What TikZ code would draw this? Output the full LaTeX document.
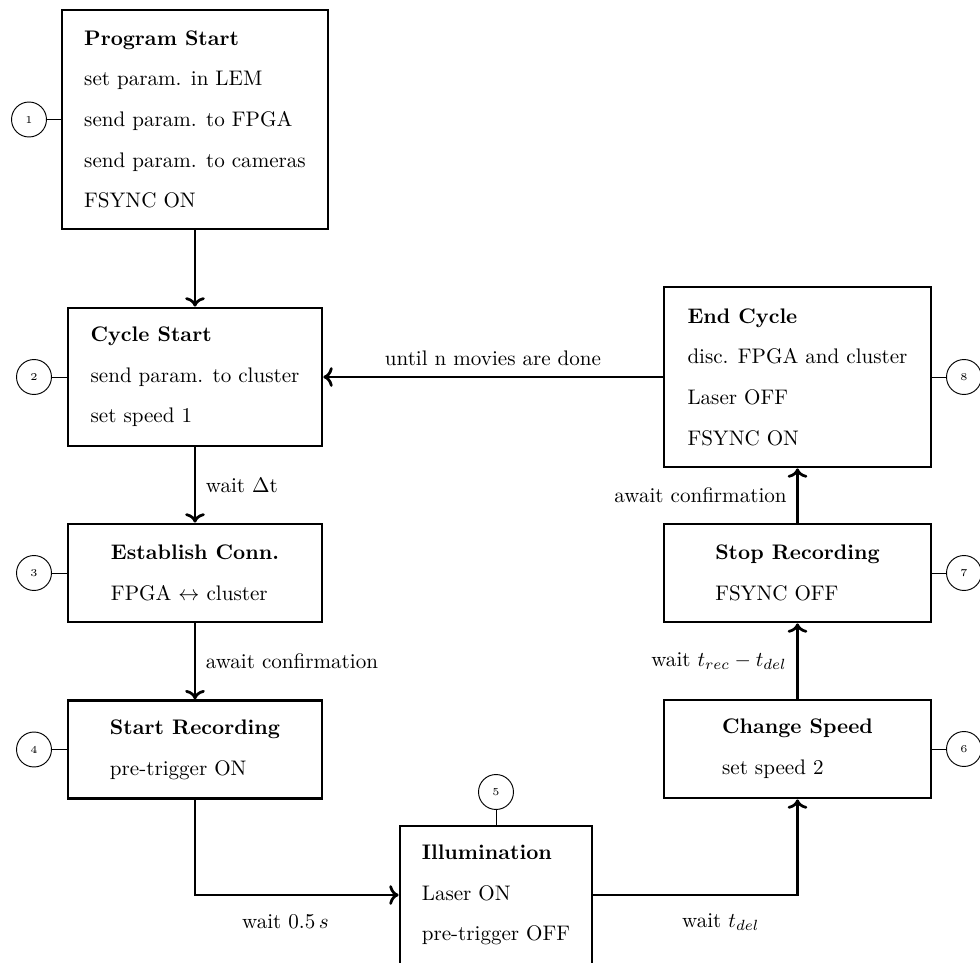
\documentclass[tikz,border=0pt]{standalone}
\usetikzlibrary{arrows.meta}

\begin{document}
\begin{tikzpicture}[x=0.4745pt, y=-0.4745pt,
  stepbox/.style={draw, line width=1.3pt, align=left, inner sep=0pt,
    font=\fontsize{10}{19.3}\selectfont},
  narrowbox/.style={stepbox, minimum width=120.5pt},
  widebox/.style={stepbox, minimum width=126.7pt},
  numcircle/.style={draw, circle, line width=0.45pt, minimum size=16.6pt,
    inner sep=0pt, font=\tiny},
  flow/.style={line width=1.3pt, ->},
  tag/.style={line width=0.45pt},
  lbl/.style={inner sep=4.5pt, font=\normalsize}]

\useasboundingbox (0,0) rectangle (980,963);

% process steps
\node[stepbox, minimum width=126.2pt, minimum height=103.9pt] (start) at (195,119.5)
  {\textbf{Program Start}\\set param. in LEM\\send param. to FPGA\\send param. to cameras\\FSYNC ON};
\node[narrowbox, minimum height=65.5pt] (cycle) at (195,377)
  {\textbf{Cycle Start}\\send param. to cluster\\set speed 1};
\node[narrowbox, minimum height=46.5pt] (conn) at (195,573)
  {\textbf{Establish Conn.}\\FPGA $\leftrightarrow$ cluster};
\node[narrowbox, minimum height=46.3pt] (startrec) at (195,749.5)
  {\textbf{Start Recording}\\pre-trigger ON};
\node[stepbox, minimum width=91.1pt, minimum height=65.5pt] (illum) at (496,895)
  {\textbf{Illumination}\\Laser ON\\pre-trigger OFF};
\node[widebox, minimum height=46.5pt] (speed) at (797.5,749)
  {\textbf{Change Speed}\\set speed 2};
\node[widebox, minimum height=46.5pt] (stoprec) at (797.5,573)
  {\textbf{Stop Recording}\\FSYNC OFF};
\node[widebox, minimum height=85.4pt] (endc) at (797.5,377)
  {\textbf{End Cycle}\\disc. FPGA and cluster\\Laser OFF\\FSYNC ON};

% step numbers
\node[numcircle] (n1) at (29,119.5) {1};
\node[numcircle] (n2) at (34,377) {2};
\node[numcircle] (n3) at (34,573) {3};
\node[numcircle] (n4) at (34,749.5) {4};
\node[numcircle] (n5) at (496,792) {5};
\node[numcircle] (n6) at (964,749) {6};
\node[numcircle] (n7) at (964,573) {7};
\node[numcircle] (n8) at (964,377) {8};

\draw[tag] (n1) -- (start);
\draw[tag] (n2) -- (cycle);
\draw[tag] (n3) -- (conn);
\draw[tag] (n4) -- (startrec);
\draw[tag] (n5) -- (illum);
\draw[tag] (n6) -- (speed);
\draw[tag] (n7) -- (stoprec);
\draw[tag] (n8) -- (endc);

% flow
\draw[flow] (start) -- (cycle);
\draw[flow] (cycle) -- node[lbl, right] {wait $\Delta$t} (conn);
\draw[flow] (conn) -- node[lbl, right] {await confirmation} (startrec);
\draw[flow] (startrec.south) |- node[pos=0.722, yshift=-12.8pt] {wait $0.5\,s$} (illum.west);
\draw[flow] (illum.east) -| node[pos=0.312, yshift=-12.8pt] {wait $t_{del}$} (speed.south);
\draw[flow] (speed) -- node[lbl, left] {wait $t_{rec}-t_{del}$} (stoprec);
\draw[flow] (stoprec) -- node[lbl, left] {await confirmation} (endc);
\draw[flow] (endc) -- node[lbl, above] {until n movies are done} (cycle);

\end{tikzpicture}
\end{document}
